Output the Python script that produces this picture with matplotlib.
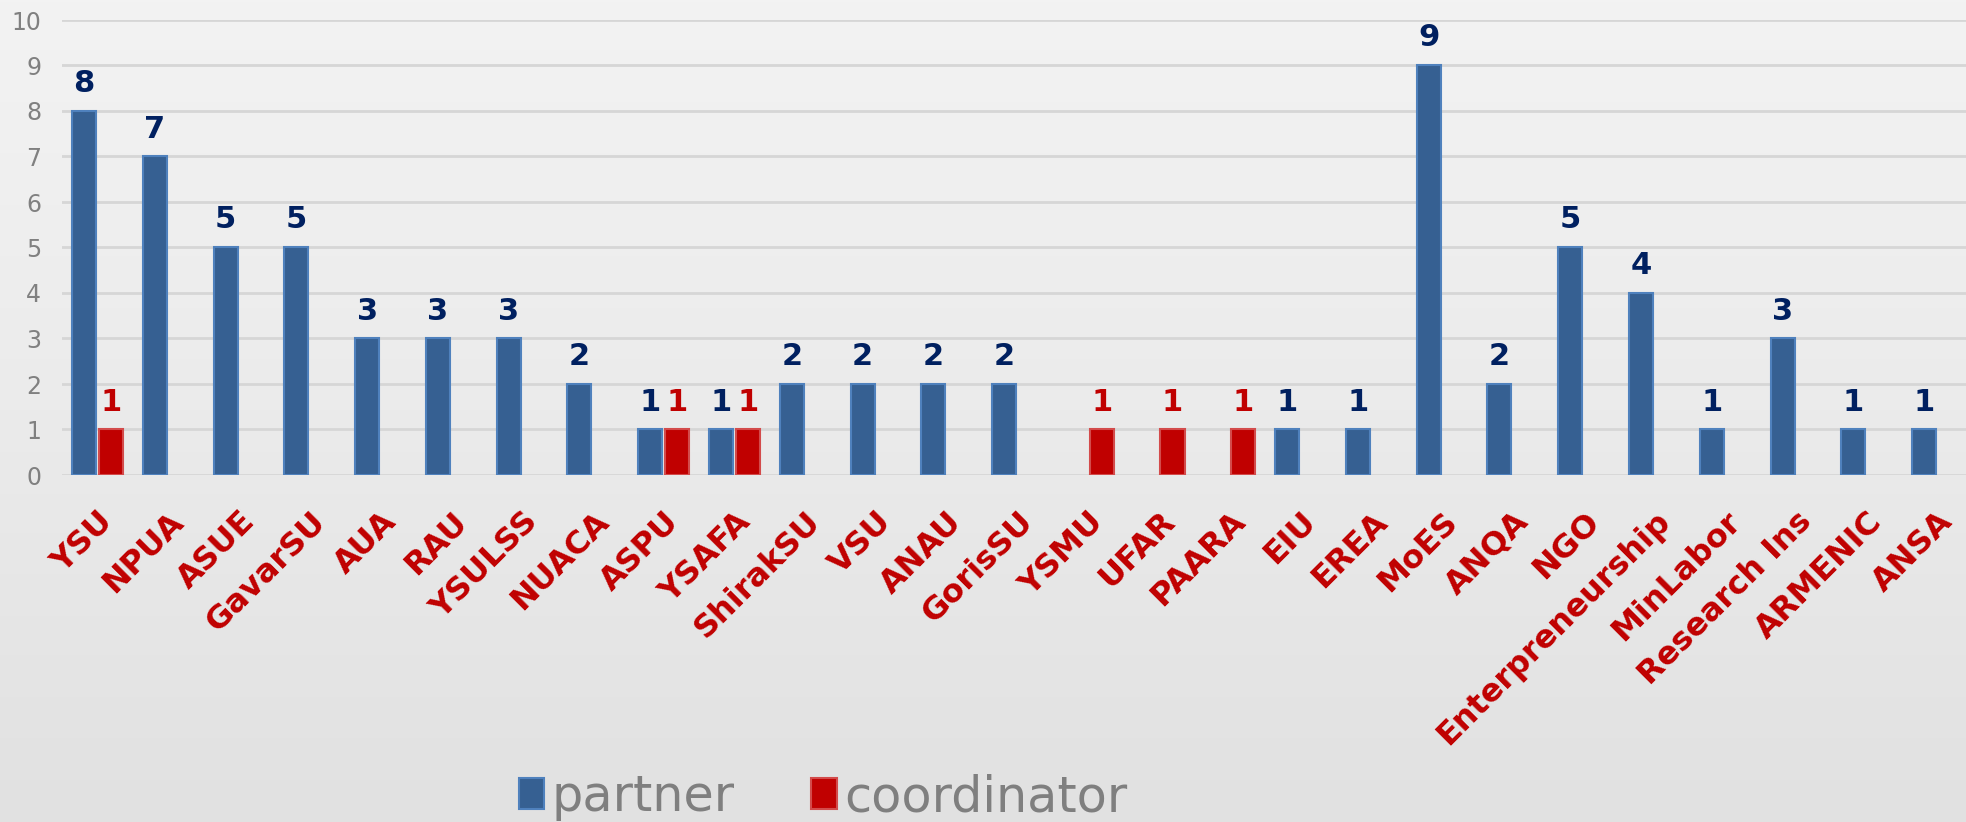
import matplotlib
matplotlib.use("Agg")
import matplotlib.pyplot as plt
import matplotlib.transforms as mtransforms
import numpy as np
from matplotlib.patches import Patch
from matplotlib.colors import LinearSegmentedColormap

categories = ["YSU", "NPUA", "ASUE", "GavarSU", "AUA", "RAU", "YSULSS", "NUACA",
              "ASPU", "YSAFA", "ShirakSU", "VSU", "ANAU", "GorisSU", "YSMU", "UFAR",
              "PAARA", "EIU", "EREA", "MoES", "ANQA", "NGO", "Enterpreneurship",
              "MinLabor", "Research Ins", "ARMENIC", "ANSA"]
partner = [8, 7, 5, 5, 3, 3, 3, 2, 1, 1, 2, 2, 2, 2, 0, 0, 0, 1, 1, 9, 2, 5, 4, 1, 3, 1, 1]
coordinator = [1, 0, 0, 0, 0, 0, 0, 0, 1, 1, 0, 0, 0, 0, 1, 1, 1, 0, 0, 0, 0, 0, 0, 0, 0, 0, 0]
series_names = ["partner", "coordinator"]
yticks = list(range(0, 11))

W, H = 1966, 822
fig = plt.figure(figsize=(W / 100, H / 100), dpi=100)
fig.patch.set_facecolor("#EBEBEB")

# background gradient
bg = fig.add_axes([0, 0, 1, 1], zorder=-10)
grad = np.linspace(0, 1, 256).reshape(-1, 1)
cmap = LinearSegmentedColormap.from_list("bg", ["#F3F3F3", "#EBEBEB", "#E1E1E1"])
bg.imshow(grad, aspect="auto", cmap=cmap, extent=[0, 1, 0, 1], origin="upper")
bg.axis("off")

left = 62 / W
bottom = (H - 475) / H
top = (H - 20) / H
ax = fig.add_axes([left, bottom, 1 - left, top - bottom])
ax.set_facecolor("none")

x = np.arange(len(categories))
bw = 0.34
off = 0.19
p_col, p_edge = "#366092", "#4F81BD"
c_col, c_edge = "#C00000", "#D34B4B"

for i, (pv, cv) in enumerate(zip(partner, coordinator)):
    if pv > 0:
        ax.bar(x[i] - off, pv, width=bw, color=p_col, edgecolor=p_edge, linewidth=1.5, zorder=3)
        ax.annotate(str(pv), (x[i] - off, pv), xytext=(0, 13), textcoords="offset pixels",
                    ha="center", va="bottom", fontsize=22, fontweight="bold", color="#002060")
    if cv > 0:
        ax.bar(x[i] + off, cv, width=bw, color=c_col, edgecolor=c_edge, linewidth=1.5, zorder=3)
        ax.annotate(str(cv), (x[i] + off, cv), xytext=(0, 13), textcoords="offset pixels",
                    ha="center", va="bottom", fontsize=22, fontweight="bold", color="#C00000")

ax.set_xlim(-0.502, (W - 97.5) / 70.77)
ax.set_ylim(0, 10)
ax.set_yticks(yticks)
ax.set_yticklabels([str(t) for t in yticks], fontsize=17, color="#808080")
ax.tick_params(axis="y", length=0, pad=15)
ax.yaxis.grid(True, color="#D6D6D6", linewidth=2, zorder=0)
ax.set_axisbelow(True)
for s in ax.spines.values():
    s.set_visible(False)

ax.set_xticks(x)
ax.set_xticklabels([])
ax.tick_params(axis="x", length=0)
lbl_tr = ax.transData + mtransforms.ScaledTranslation(0 / 100, -31 / 100, fig.dpi_scale_trans)
for i, c in enumerate(categories):
    ax.text(x[i], 0, c, transform=lbl_tr, rotation=45, ha="right", va="top",
            rotation_mode="anchor", fontsize=23, fontweight="bold", color="#C00000",
            clip_on=False)

handles = [Patch(facecolor=p_col, edgecolor=p_edge, linewidth=1.5),
           Patch(facecolor=c_col, edgecolor=c_edge, linewidth=1.5)]
leg = fig.legend(handles, series_names, loc="center", bbox_to_anchor=(823 / W, 1 - 797 / H),
                 ncol=2, frameon=False, fontsize=35.5, handlelength=0.52, handleheight=0.6,
                 handletextpad=0.15, columnspacing=1.55, labelcolor="#7F7F7F")

fig.savefig("out.png", dpi=100, facecolor=fig.get_facecolor())
